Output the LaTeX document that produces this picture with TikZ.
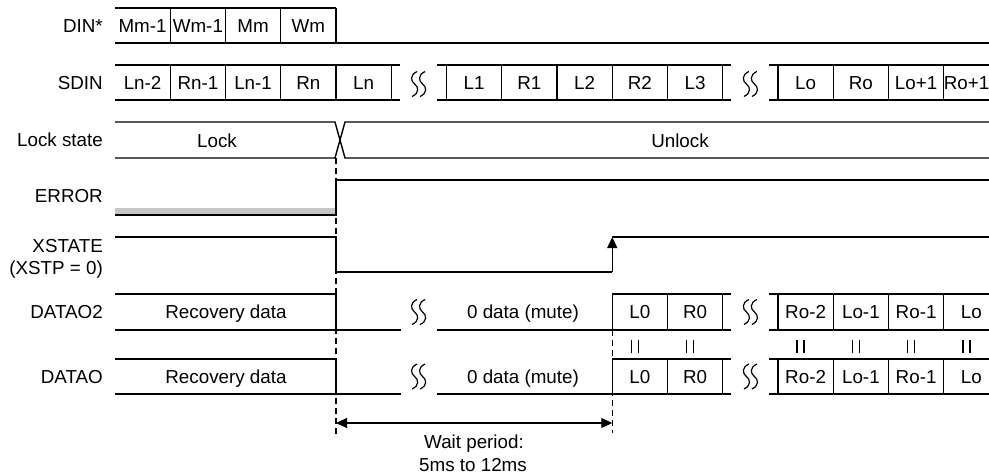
\documentclass[tikz,border=0pt]{standalone}
\usepackage{fontspec}
\setmainfont{Liberation Sans}
\usetikzlibrary{arrows.meta}
\tikzset{
  sig/.style={line width=1.4pt, line join=miter},
  dsh/.style={line width=1.2pt, dash pattern=on 6pt off 4pt},
  txt/.style={inner sep=0pt, text height=13.5pt, text depth=0pt, font=\fontsize{18.8}{22}\selectfont},
  lbl/.style={txt, anchor=east},
  eqbar/.style={line width=1.4pt},
  mytip/.tip={Triangle[length=11pt,width=10pt]}
}
\newcommand\mysquig[2]{%
  \foreach \dx in {-4,4}{%
    \draw[line width=1.2pt] ({#1+\dx+2.5},{#2-12.5}) .. controls ({#1+\dx-5},{#2-9}) and ({#1+\dx-4},{#2-3}) .. ({#1+\dx},{#2})
      .. controls ({#1+\dx+4},{#2+3}) and ({#1+\dx+5},{#2+9}) .. ({#1+\dx-2.5},{#2+12.5});
  }}
\begin{document}
\begin{tikzpicture}[x=1pt,y=-1pt]
\useasboundingbox (0,0) rectangle (989,474);
% ---------- labels ----------
\node[lbl] (lDIN) at (103,25.5) {DIN*};
\node[lbl] (lSDIN) at (103,82.5) {SDIN};
\node[lbl] (lLock) at (103,140) {Lock state};
\node[lbl] (lErr) at (103,196) {ERROR};
\node[lbl] (lXs) at (103,246) {XSTATE};
\node[lbl] (lXs2) at (103,268) {(XSTP = 0)};
\node[lbl] (lD2) at (103,312) {DATAO2};
\node[lbl] (lD) at (103,376.5) {DATAO};
% ---------- DIN* ----------
\draw[sig] (115,8) -- (336,8);
\draw[sig] (115,43) -- (995,43);
\foreach \x in {170.25,225.5,280.75,336} \draw[sig] (\x,8) -- (\x,43);
\node[txt] (d1) at (142.6,25.5) {Mm-1};
\node[txt] (d2) at (197.9,25.5) {Wm-1};
\node[txt] (d3) at (253.1,25.5) {Mm};
\node[txt] (d4) at (308.4,25.5) {Wm};
% ---------- SDIN ----------
\draw[sig] (115,65) -- (400,65) (115,100) -- (400,100);
\draw[sig] (437,65) -- (731,65) (437,100) -- (731,100);
\draw[sig] (769,65) -- (995,65) (769,100) -- (995,100);
\foreach \x in {170.25,225.5,280.75,336,391.25,446.5,501.75,557,612.25,667.5,722.75,778,833.25,888.5,943.75}
  \draw[sig] (\x,65) -- (\x,100);
\mysquig{418.6}{84}
\mysquig{750.4}{84}
\node[txt] (s1) at (142.6,82.5) {Ln-2};
\node[txt] (s2) at (197.9,82.5) {Rn-1};
\node[txt] (s3) at (253.1,82.5) {Ln-1};
\node[txt] (s4) at (308.4,82.5) {Rn};
\node[txt] (s5) at (363.6,82.5) {Ln};
\node[txt] (s6) at (474.1,82.5) {L1};
\node[txt] (s7) at (529.4,82.5) {R1};
\node[txt] (s8) at (584.6,82.5) {L2};
\node[txt] (s9) at (639.9,82.5) {R2};
\node[txt] (s10) at (695.1,82.5) {L3};
\node[txt] (s11) at (805.6,82.5) {Lo};
\node[txt] (s12) at (860.9,82.5) {Ro};
\node[txt] (s13) at (916.1,82.5) {Lo+1};
\node[txt] (s14) at (966.5,82.5) {Ro+1};
% ---------- Lock state ----------
\draw[sig] (115,122) -- (335,122) -- (345,158) -- (995,158);
\draw[sig] (115,158) -- (335,158) -- (345,122) -- (995,122);
\node[txt] (tLock) at (217,141) {Lock};
\node[txt] (tUnlock) at (680,141) {Unlock};
% ---------- dashed markers ----------
\draw[dsh] (336,158) -- (336,437);
\draw[dsh] (612.25,330) -- (612.25,433);
% ---------- ERROR ----------
\fill[gray!45] (115,208) rectangle (336,215);
\draw[sig] (115,215) -- (336,215) -- (336,180) -- (995,180);
% ---------- XSTATE ----------
\draw[sig] (115,237) -- (336,237) -- (336,272) -- (612.25,272);
\coordinate (xlo) at (612.25,272);
\coordinate (xhi) at (612.25,237);
\draw[sig,-{mytip}] (xlo) -- (xhi);
\draw[sig] (xhi) -- (995,237);
% ---------- DATAO2 ----------
\draw[sig] (115,294) -- (336,294) -- (336,330);
\draw[sig] (115,330) -- (401,330) (437,330) -- (731,330);
\draw[sig] (612.25,294) -- (731,294);
\draw[sig] (769,294) -- (995,294) (769,330) -- (995,330);
\foreach \x in {612.25,667.5,722.75,778,833.25,888.5,943.75} \draw[sig] (\x,294) -- (\x,330);
\mysquig{418.6}{312}
\mysquig{750.4}{312}
\node[txt] (r2) at (226,312) {Recovery data};
\node[txt] (m2) at (523,312) {0 data (mute)};
\node[txt] (a1) at (639.9,312) {L0};
\node[txt] (a2) at (695.1,312) {R0};
\node[txt] (a3) at (805.6,312) {Ro-2};
\node[txt] (a4) at (860.9,312) {Lo-1};
\node[txt] (a5) at (916.1,312) {Ro-1};
\node[txt] (a6) at (971.4,312) {Lo};
% ---------- equality bars ----------
\foreach \c in {639.9,695.1,805.6,860.9,916.1,971.4}{
  \draw[eqbar] ({\c-8.5},340) -- ({\c-8.5},353);
  \draw[eqbar] ({\c-1.5},340) -- ({\c-1.5},353);
}
% ---------- DATAO ----------
\draw[sig] (115,359) -- (336,359) -- (336,394);
\draw[sig] (115,394) -- (401,394) (437,394) -- (731,394);
\draw[sig] (612.25,359) -- (731,359);
\draw[sig] (769,359) -- (995,359) (769,394) -- (995,394);
\foreach \x in {612.25,667.5,722.75,778,833.25,888.5,943.75} \draw[sig] (\x,359) -- (\x,394);
\mysquig{418.6}{376.5}
\mysquig{750.4}{376.5}
\node[txt] (r1) at (226,376.5) {Recovery data};
\node[txt] (m1) at (523,376.5) {0 data (mute)};
\node[txt] (b1) at (639.9,376.5) {L0};
\node[txt] (b2) at (695.1,376.5) {R0};
\node[txt] (b3) at (805.6,376.5) {Ro-2};
\node[txt] (b4) at (860.9,376.5) {Lo-1};
\node[txt] (b5) at (916.1,376.5) {Ro-1};
\node[txt] (b6) at (971.4,376.5) {Lo};
% ---------- wait period ----------
\coordinate (wL) at (336,423);
\coordinate (wR) at (612.25,423);
\draw[line width=1.1pt,{mytip}-{mytip}] (wL) -- (wR);
\node[txt] (w1) at (474,442) {Wait period:};
\node[txt] (w2) at (473,465) {5ms to 12ms};
\end{tikzpicture}
\end{document}
